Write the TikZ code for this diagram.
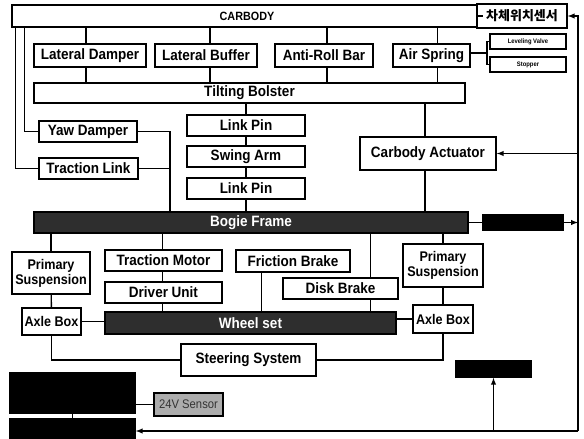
\documentclass[tikz,border=0pt]{standalone}
\usepackage{fontspec}
\setmainfont{Liberation Sans}[FakeStretch=0.9]
\newfontfamily\krfont{Noto Sans CJK KR}
\begin{document}
\begin{tikzpicture}[x=1pt, y=-1pt, line width=1.4pt,
  box/.style={draw, fill=white, align=center, inner sep=1pt, minimum height=21pt,
    font=\fontsize{15}{14}\selectfont\bfseries},
  dark/.style={box, fill=black!82, text=white},
  blk/.style={draw, fill=black, inner sep=0pt},
  tiny/.style={box, minimum height=15pt, minimum width=76pt, font=\fontsize{6.5}{7}\selectfont\bfseries}]
  \useasboundingbox (0,0) rectangle (584,439);
  % carbody level
  \node[box, minimum width=470pt, minimum height=22pt, font=\fontsize{12}{12}\selectfont\bfseries] (carbody) at (247,16) {CARBODY};
  \node[box, minimum width=90pt, minimum height=24pt, font=\krfont\fontsize{13}{14}\selectfont\bfseries] (sensorKR) at (522,16) {차체위치센서};
  \node[box, minimum width=112pt, minimum height=23pt] (latdamp) at (90,55.5) {Lateral Damper};
  \node[box, minimum width=102pt, minimum height=23pt] (latbuf) at (206,55.5) {Lateral Buffer};
  \node[box, minimum width=98pt, minimum height=23pt] (antiroll) at (324,55.5) {Anti-Roll Bar};
  \node[box, minimum width=77pt, minimum height=23pt] (airspring) at (431.5,55.5) {Air Spring};
  \node[tiny] (level) at (528,41.5) {Leveling Valve};
  \node[tiny] (stopper) at (528,64.5) {Stopper};
  \node[box, minimum width=431pt, minimum height=20pt] (bolster) at (249.5,93) {Tilting Bolster};
  % bolster to bogie
  \node[box, minimum width=118pt] (linkpinA) at (246,125.5) {Link Pin};
  \node[box, minimum width=118pt] (swing) at (246,156.5) {Swing Arm};
  \node[box, minimum width=118pt] (linkpinB) at (246,188.5) {Link Pin};
  \node[box, minimum width=136pt, minimum height=33pt] (actuator) at (428,153.5) {Carbody Actuator};
  \node[box, minimum width=98pt] (yaw) at (88,131.5) {Yaw Damper};
  \node[box, minimum width=99pt] (traction) at (88.5,168.5) {Traction Link};
  \node[dark, minimum width=434pt] (bogie) at (251,222.5) {Bogie Frame};
  \node[blk, minimum width=80pt, minimum height=15pt] (blackR) at (523,222.5) {};
  % bogie to wheel set
  \node[box, minimum width=78pt, minimum height=42pt, font=\fontsize{14}{15}\selectfont\bfseries] (psL) at (51,273) {Primary\\Suspension};
  \node[box, minimum width=117pt] (motor) at (163.5,260.5) {Traction Motor};
  \node[box, minimum width=117pt] (driver) at (163.5,292.5) {Driver Unit};
  \node[box, minimum width=114pt, minimum height=22pt] (friction) at (293,261) {Friction Brake};
  \node[box, minimum width=115pt] (disk) at (340.5,288.5) {Disk Brake};
  \node[box, minimum width=80pt, minimum height=43pt, font=\fontsize{14}{15}\selectfont\bfseries] (psR) at (443,265.5) {Primary\\Suspension};
  \node[box, minimum width=59pt, minimum height=27pt, font=\fontsize{14}{14}\selectfont\bfseries] (axleL) at (51.5,321.5) {Axle Box};
  \node[dark, minimum width=291pt, minimum height=22pt] (wheel) at (250.5,323) {Wheel set};
  \node[box, minimum width=60pt, minimum height=28pt, font=\fontsize{14}{14}\selectfont\bfseries] (axleR) at (443,319) {Axle Box};
  \node[box, minimum width=135pt, minimum height=32pt] (steer) at (248.5,360) {Steering System};
  % bottom
  \node[blk, minimum width=125pt, minimum height=40pt] (blackL1) at (72.5,393) {};
  \node[blk, minimum width=125pt, minimum height=24pt] (blackL2) at (72.5,431) {};
  \node[draw, fill=gray!65, text=black!80, inner sep=1pt, minimum width=69pt, minimum height=23pt,
    font=\fontsize{12.5}{12}\selectfont] (sensor24) at (188.5,404.5) {24V Sensor};
  \node[blk, minimum width=75pt, minimum height=16pt] (blackB) at (493.5,369) {};
  \coordinate (railTop) at (578,16);
  \coordinate (railBot) at (578,431);
  \coordinate (brk) at (487,53);
  \coordinate (ydrop) at (170,131.5);

  \draw (carbody.east) -- (sensorKR.west);
  \foreach \n/\dx in {latdamp/-4, latbuf/4, antiroll/3, airspring/6} {
    \draw ([xshift=\dx pt]carbody.south -| \n.north) -- ([xshift=\dx pt]\n.north);
    \draw ([xshift=\dx pt]\n.south) -- ([xshift=\dx pt]\n.south |- bolster.north);
  }
  \draw (airspring.east |- brk) -- (brk);
  \draw (level.west) -| (brk) |- (stopper.west);
  \draw ([xshift=4pt]carbody.south west) |- (traction.west);
  \draw ([xshift=13pt]carbody.south west) |- (yaw.west);
  \draw (yaw.east) -- (ydrop) -- (ydrop |- bogie.north);
  \draw (traction.east) -- (traction.east -| ydrop);
  \draw (bolster.south -| linkpinA.north) -- (linkpinA.north);
  \draw (linkpinA) -- (swing) -- (linkpinB);
  \draw (linkpinB.south) -- (linkpinB.south |- bogie.north);
  \draw ([xshift=-3pt]bolster.south -| actuator.north) -- ([xshift=-3pt]actuator.north);
  \draw ([xshift=-3pt]actuator.south) -- ([xshift=-3pt]actuator.south |- bogie.north);
  \draw (bogie.east) -- (blackR.west);
  \draw (bogie.south -| psL.north) -- (psL.north);
  \draw (psL) -- (axleL);
  \draw (axleL.east) -- (axleL.east -| wheel.west);
  \draw ([xshift=-1pt]bogie.south -| motor.north) -- ([xshift=-1pt]motor.north);
  \draw ([xshift=-1pt]motor.south) -- ([xshift=-1pt]driver.north);
  \draw ([xshift=-1pt]driver.south) -- ([xshift=-1pt]driver.south |- wheel.north);
  \draw ([xshift=26pt]friction.south west) -- ([xshift=26pt]friction.south west |- wheel.north);
  \draw ([xshift=-28pt]disk.north east |- bogie.south) -- ([xshift=-28pt]disk.north east);
  \draw ([xshift=-28pt]disk.south east) -- ([xshift=-28pt]disk.south east |- wheel.north);
  \draw (bogie.south -| psR.north) -- (psR.north);
  \draw (psR) -- (axleR);
  \draw (axleR.west) -- (axleR.west -| wheel.east);
  \draw (axleL.south) |- (steer.west);
  \draw (axleR.south) |- (steer.east);
  \draw (blackL1) -- (blackL2);
  \draw (sensor24.west) -- (sensor24.west -| blackL1.east);
  % feedback rail
  \draw[->, >=latex] (railBot) -- (railTop) -- (sensorKR.east);
  \draw[->, >=latex] (railBot) -- (blackL2.east);
  \draw[->, >=latex] (blackB.south |- railBot) -- (blackB.south);
  \draw[->, >=latex] (actuator.east -| railTop) -- (actuator.east);
  \draw[->, >=latex] (blackR.east) -- (blackR.east -| railTop);
\end{tikzpicture}
\end{document}
